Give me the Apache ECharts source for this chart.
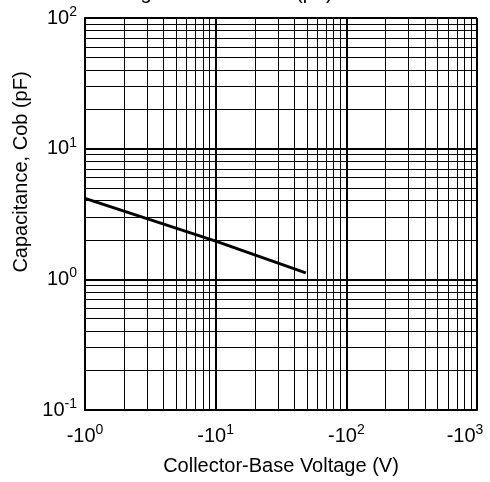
<!DOCTYPE html>
<html>
<head>
<meta charset="utf-8">
<script src="https://cdn.jsdelivr.net/npm/echarts@6/dist/echarts.min.js"></script>
<style>
html,body{margin:0;padding:0;background:#fff;}
#c{width:490px;height:482px;}
</style>
</head>
<body>
<div id="c"></div>
<script>
// ---- data ----
var titleText = 'Voltage Characteristic (pF)';
var xName = 'Collector-Base Voltage (V)';
var yName = 'Capacitance, Cob (pF)';
var xRange = [1, 1000];
var yRange = [0.1, 100];
// curve: |V_CB| (V) vs Cob (pF)
var vcb = [1, 10, 49];
var cob = [4.17, 1.96, 1.12];
// minor gridline multipliers within each decade
var minorSteps = [2, 3, 4, 5, 6, 7, 8, 9];
var xDecades = [1, 10, 100];
var yDecades = [0.1, 1, 10];

var FONT = 'Liberation Sans, Arial, sans-serif';

var xMinor = [];
xDecades.forEach(function (d) { minorSteps.forEach(function (m) { xMinor.push({ xAxis: d * m }); }); });
var yMinor = [];
yDecades.forEach(function (d) { minorSteps.forEach(function (m) { yMinor.push({ yAxis: +(d * m).toPrecision(3) }); }); });

var curve = vcb.map(function (v, i) { return [v, cob[i]]; });

function exp10(v) { return Math.round(Math.log(v) / Math.LN10); }

var chart = echarts.init(document.getElementById('c'), null, { renderer: 'canvas' });
chart.setOption({
  animation: false,
  backgroundColor: '#fff',
  title: {
    text: titleText,
    left: 91,
    top: -22,
    textStyle: { fontFamily: FONT, fontSize: 20, fontWeight: 'normal', color: '#000' }
  },
  grid: { left: 85, right: 13, top: 18, bottom: 72, containLabel: false, outerBoundsMode: 'none' },
  xAxis: {
    type: 'log', logBase: 10, min: xRange[0], max: xRange[1],
    name: xName, nameLocation: 'middle', nameGap: 46,
    nameTextStyle: { fontFamily: FONT, fontSize: 20, color: '#000' },
    axisLine: { show: true, lineStyle: { color: '#000', width: 2 } },
    axisTick: { show: false },
    splitLine: { show: true, lineStyle: { color: '#000', width: 2 } },
    axisLabel: {
      margin: 13,
      fontFamily: FONT, fontSize: 20, color: '#000',
      formatter: function (v) {
        var e = exp10(v);
        return v >= xRange[1] ? '-10{sl|' + e + '}' : '-10{s|' + e + '}';
      },
      rich: {
        s: { fontFamily: FONT, fontSize: 14, color: '#000', padding: [0, 0, 12, 0] },
        sl: { fontFamily: FONT, fontSize: 14, color: '#000', padding: [0, 24, 12, 0] }
      }
    }
  },
  yAxis: {
    type: 'log', logBase: 10, min: yRange[0], max: yRange[1],
    name: yName, nameLocation: 'middle', nameGap: 53,
    nameTextStyle: { fontFamily: FONT, fontSize: 20, color: '#000', padding: [0, 0, 0, 84] },
    axisLine: { show: true, lineStyle: { color: '#000', width: 2 } },
    axisTick: { show: false },
    splitLine: { show: true, lineStyle: { color: '#000', width: 2 } },
    axisLabel: {
      margin: 8,
      fontFamily: FONT, fontSize: 20, color: '#000',
      formatter: function (v) { return '10{s|' + exp10(v) + '}'; },
      rich: { s: { fontFamily: FONT, fontSize: 14, color: '#000', padding: [0, 0, 12, 0] } }
    }
  },
  series: [
    {
      type: 'line', data: [], z: 1, silent: true,
      markLine: {
        silent: true, symbol: ['none', 'none'], animation: false,
        label: { show: false },
        lineStyle: { color: '#000', width: 1, type: 'solid' },
        emphasis: { disabled: true },
        data: xMinor.concat(yMinor)
      }
    },
    {
      type: 'line', data: curve, z: 5, symbol: 'none', silent: true,
      lineStyle: { color: '#000', width: 3 }
    }
  ]
});
</script>
</body>
</html>
